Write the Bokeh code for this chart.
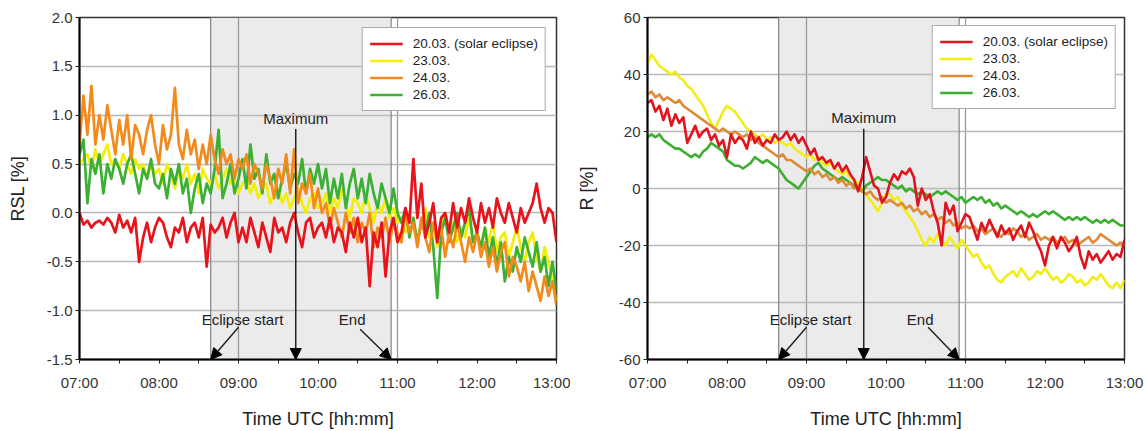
from bokeh.plotting import figure
from bokeh.layouts import row
from bokeh.models import (Range1d, FixedTicker, SingleIntervalTicker, BoxAnnotation, Span,
                          Arrow, NormalHead, Label, Legend, LegendItem, NumeralTickFormatter)
from bokeh.embed import file_html
from bokeh.resources import INLINE

FONT = "Liberation Sans"

# ---------------- data ----------------
sample_step_min = 3          # one value every 3 minutes, 07:00 .. 13:00
tick_hours = [7, 8, 9, 10, 11, 12, 13]
tick_labels = ["07:00", "08:00", "09:00", "10:00", "11:00", "12:00", "13:00"]
series_names = ["20.03. (solar eclipse)", "23.03.", "24.03.", "26.03."]
eclipse_start_h = 8.65
eclipse_max_h = 9.72
eclipse_end_h = 10.92

# RSL [%]
rsl_2003 = [0.0,
    -0.12, -0.08, -0.15, -0.10, -0.08, -0.12, -0.05, -0.10, -0.20, -0.02, -0.15, -0.08, -0.20, -0.05, -0.50, -0.25, -0.10, -0.30, -0.15, -0.05,
    -0.10, -0.25, -0.35, -0.15, -0.20, -0.05, -0.30, -0.15, -0.10, -0.25, -0.05, -0.55, -0.12, -0.20, -0.15, -0.05, -0.25, -0.10, 0.00, -0.30,
    -0.15, -0.30, -0.05, -0.20, -0.35, -0.10, -0.25, -0.40, -0.05, -0.20, -0.15, -0.30, -0.10, 0.00, -0.20, -0.35, -0.10, -0.05, -0.25, -0.15,
    -0.10, -0.25, -0.05, -0.30, -0.15, -0.20, -0.40, -0.10, -0.25, -0.05, -0.30, -0.15, -0.75, -0.20, -0.35, -0.10, -0.65, -0.20, -0.05, -0.30,
    -0.20, 0.05, -0.10, 0.55, -0.05, 0.30, -0.25, -0.10, 0.10, -0.30, -0.05, 0.00, -0.20, 0.10, -0.15, 0.05, -0.10, 0.15, -0.05, -0.20,
    0.10, -0.10, 0.05, -0.15, 0.15, 0.00, -0.10, 0.10, -0.05, -0.20, 0.05, -0.10, 0.00, 0.10, 0.30, 0.05, -0.10, 0.05, 0.00, -0.30]
rsl_2303 = [0.50,
    0.55, 0.60, 0.45, 0.65, 0.50, 0.60, 0.70, 0.50, 0.55, 0.45, 0.60, 0.50, 0.40, 0.55, 0.45, 0.50, 0.35, 0.50, 0.40, 0.45,
    0.30, 0.50, 0.40, 0.25, 0.45, 0.35, 0.50, 0.30, 0.40, 0.20, 0.45, 0.35, 0.30, 0.40, 0.25, 0.35, 0.45, 0.30, 0.35, 0.20,
    0.30, 0.35, 0.20, 0.30, 0.15, 0.25, 0.30, 0.10, 0.20, 0.25, 0.10, 0.20, 0.05, 0.15, 0.25, 0.10, 0.00, 0.15, 0.20, 0.05,
    0.10, 0.20, 0.00, 0.15, 0.05, 0.25, 0.10, -0.05, 0.15, 0.10, 0.00, 0.20, 0.05, -0.10, 0.10, 0.00, 0.15, -0.05, 0.05, -0.10,
    -0.05, -0.20, 0.00, -0.15, -0.30, -0.10, 0.05, -0.25, -0.10, -0.35, -0.15, 0.00, -0.20, -0.10, -0.30, -0.15, -0.25, -0.05, -0.30, -0.20,
    -0.35, -0.15, -0.30, -0.10, -0.40, -0.25, -0.20, -0.45, -0.30, -0.15, -0.35, -0.50, -0.30, -0.20, -0.45, -0.60, -0.35, -0.50, -0.70, -0.90]
rsl_2403 = [0.70,
    1.20, 0.80, 1.30, 0.70, 1.00, 0.75, 1.10, 0.85, 0.60, 0.95, 0.70, 1.00, 0.55, 0.90, 0.80, 0.60, 0.85, 1.00, 0.70, 0.50,
    0.90, 0.65, 0.80, 1.28, 0.70, 0.55, 0.85, 0.60, 0.75, 0.45, 0.70, 0.50, 0.80, 0.55, 0.40, 0.65, 0.50, 0.60, 0.35, 0.55,
    0.45, 0.60, 0.30, 0.50, 0.40, 0.25, 0.50, 0.35, 0.15, 0.45, 0.30, 0.60, 0.20, 0.65, 0.10, 0.30, 0.20, 0.40, 0.05, 0.25,
    0.00, 0.10, -0.15, 0.05, -0.10, -0.25, 0.00, -0.20, -0.05, -0.30, -0.10, -0.20, 0.00, -0.35, -0.15, -0.25, -0.05, -0.30, -0.10, -0.20,
    -0.30, 0.00, -0.20, -0.10, -0.35, -0.05, -0.25, -0.40, -0.10, -0.30, -0.15, -0.45, -0.20, -0.35, -0.10, -0.30, -0.50, -0.25, -0.40, -0.20,
    -0.45, -0.30, -0.55, -0.35, -0.60, -0.40, -0.30, -0.65, -0.45, -0.55, -0.70, -0.50, -0.80, -0.60, -0.75, -0.90, -0.65, -0.85, -0.70, -0.95]
rsl_2603 = [0.60,
    0.75, 0.10, 0.55, 0.40, 0.60, 0.20, 0.50, 0.35, 0.55, 0.45, 0.30, 0.50, 0.60, 0.40, 0.20, 0.45, 0.35, 0.55, 0.30, 0.25,
    0.40, 0.15, 0.45, 0.30, 0.50, 0.20, 0.35, 0.00, 0.25, 0.40, 0.10, 0.30, 0.20, 0.45, 0.85, 0.15, 0.30, 0.50, 0.20, 0.35,
    0.55, 0.25, 0.70, 0.35, 0.45, 0.20, 0.60, 0.30, 0.40, 0.15, 0.35, 0.50, 0.25, 0.40, 0.30, 0.55, 0.20, 0.45, 0.30, 0.50,
    0.25, 0.45, 0.10, 0.35, 0.15, 0.40, 0.05, 0.30, 0.45, 0.15, 0.35, 0.10, 0.40, 0.20, 0.05, 0.30, 0.15, 0.00, 0.25, 0.00,
    -0.10, 0.05, -0.25, -0.05, -0.30, -0.10, -0.20, 0.00, -0.35, -0.87, -0.20, -0.05, -0.30, -0.15, 0.00, -0.25, -0.10, 0.05, -0.30, -0.20,
    -0.35, -0.15, -0.45, -0.25, -0.55, -0.30, -0.70, -0.45, -0.60, -0.35, -0.50, -0.25, -0.40, -0.55, -0.30, -0.60, -0.45, -0.75, -0.50, -0.80]

# R [%]
r_2003 = [30,
    31, 27, 29, 24, 28, 22, 26, 23, 25, 16, 19, 22, 18, 20, 21, 17, 19, 15, 17, 11,
    19, 16, 18, 17, 14, 20, 16, 18, 15, 17, 16, 19, 17, 18, 20, 17, 19, 16, 18, 15,
    12, 14, 10, 11, 9, 10, 7, 9, 6, 8, 5, 3, -1, 4, 11, 6, 1, 0, -5, -3,
    2, 5, 3, 6, 5, 7, 4, -6, 0, -4, -2, -8, -12, -20, -5, -9, -6, -15, -12, -9,
    -10, -14, -18, -12, -15, -11, -14, -17, -13, -16, -14, -18, -15, -13, -17, -12, -15, -19, -22, -27,
    -20, -17, -21, -17, -19, -22, -20, -17, -24, -28, -22, -25, -23, -26, -24, -22, -25, -23, -24, -18]
r_2303 = [44,
    47, 45, 43, 42, 41, 40, 41, 39, 38, 36, 35, 33, 31, 29, 26, 23, 21, 24, 27, 29,
    28, 27, 25, 23, 21, 20, 19, 18, 19, 17, 18, 16, 17, 16, 15, 16, 14, 13, 12, 11,
    12, 10, 11, 9, 8, 9, 7, 6, 5, 6, 4, 3, 2, 0, -2, -4, -6, -8, -5, -2,
    -2, -4, -3, -6, -8, -10, -12, -15, -18, -20, -17, -19, -16, -18, -20, -17, -19, -21, -18, -20,
    -22, -24, -23, -26, -28, -27, -30, -32, -33, -31, -30, -29, -31, -28, -30, -32, -31, -29, -30, -28,
    -30, -32, -31, -33, -32, -30, -31, -33, -32, -34, -33, -31, -32, -30, -32, -34, -35, -33, -35, -32]
r_2403 = [33,
    34, 32, 33, 31, 32, 31, 30, 31, 29, 28, 27, 26, 25, 24, 23, 22, 21, 20, 21, 20,
    19, 20, 19, 18, 19, 17, 18, 16, 15, 14, 13, 12, 11, 12, 10, 10, 9, 8, 7, 6,
    7, 5, 6, 4, 5, 3, 4, 2, 3, 1, 2, 0, 1, -1, -2, -1, -3, -4, -3, -5,
    -4, -5, -6, -5, -7, -6, -8, -7, -9, -8, -10, -9, -11, -10, -12, -11, -13, -12, -14, -13,
    -14, -13, -15, -14, -16, -15, -14, -16, -17, -15, -16, -14, -15, -17, -16, -18, -17, -16, -18, -17,
    -18, -17, -19, -18, -17, -19, -18, -20, -19, -18, -17, -19, -18, -16, -17, -18, -19, -20, -19, -20]
r_2603 = [18,
    19, 18, 19, 17, 16, 15, 14, 14, 13, 12, 11, 12, 11, 13, 14, 16, 15, 14, 13, 10,
    9, 8, 8, 7, 8, 9, 11, 10, 9, 10, 9, 8, 7, 5, 3, 2, 1, 0, 2, 4,
    6, 8, 9, 7, 6, 5, 4, 3, 4, 3, 2, 1, 0, -1, 1, 2, 3, 4, 3, 3,
    2, 1, 0, 1, -1, 0, -1, -2, -1, -2, -3, -2, -1, -2, -1, -2, -3, -4, -3, -5,
    -4, -3, -4, -3, -5, -4, -6, -5, -7, -6, -7, -8, -9, -8, -9, -10, -9, -10, -9, -8,
    -9, -8, -9, -10, -11, -10, -11, -10, -11, -10, -11, -12, -11, -12, -11, -12, -11, -12, -13, -13]

colors_left = ["#e8141c", "#f2ee0a", "#f28a1c", "#3cb034"]
colors_right = ["#e0141e", "#f2ee14", "#de8a36", "#3cae30"]


def hours(vals):
    return [tick_hours[0] + sample_step_min * i / 60.0 for i in range(len(vals))]


def make_panel(width, b_left, b_right, y_lo, y_hi, y_step, y_fmt, y_label, series, colors,
               ann, legend_margin, y_label_standoff, lw):
    p = figure(width=width, height=431, x_range=Range1d(7, 13), y_range=Range1d(y_lo, y_hi),
               output_backend="svg", toolbar_location=None,
               min_border_left=b_left, min_border_right=b_right, min_border_top=17, min_border_bottom=71)
    p.background_fill_color = "white"
    p.border_fill_color = "white"
    p.outline_line_color = "#333333"
    p.outline_line_width = 1.5

    # eclipse shading
    p.add_layout(BoxAnnotation(left=eclipse_start_h, right=eclipse_end_h, fill_color="#ebebeb",
                               fill_alpha=1.0, line_color=None, level="image"))
    for loc in (eclipse_start_h, eclipse_end_h):
        p.add_layout(Span(location=loc, dimension="height", line_color="#8c8c8c",
                          line_width=1.3, level="underlay"))

    # axes
    xa = p.xaxis[0]
    xa.ticker = FixedTicker(ticks=tick_hours, minor_ticks=[h + 0.5 for h in tick_hours[:-1]])
    xa.major_label_overrides = {h: lab for h, lab in zip(tick_hours, tick_labels)}
    xa.axis_label = "Time UTC [hh:mm]"
    ya = p.yaxis[0]
    ya.ticker = SingleIntervalTicker(interval=y_step, num_minor_ticks=0)
    ya.formatter = NumeralTickFormatter(format=y_fmt)
    ya.axis_label = y_label
    for ax in (xa, ya):
        ax.axis_line_color = "black"
        ax.axis_line_width = 2
        ax.major_tick_line_color = "#222222"
        ax.major_tick_out = 4
        ax.major_tick_in = 0
        ax.minor_tick_line_color = "#222222"
        ax.minor_tick_out = 4
        ax.minor_tick_in = 0
        ax.major_label_text_font = FONT
        ax.major_label_text_font_size = "15px"
        ax.major_label_text_color = "#333333"
        ax.axis_label_text_font = FONT
        ax.axis_label_text_font_size = "18px"
        ax.axis_label_text_font_style = "normal"
        ax.axis_label_text_color = "#222222"
    xa.major_label_standoff = 10
    xa.axis_label_standoff = 15
    ya.major_label_standoff = 3
    ya.axis_label_standoff = y_label_standoff

    p.xgrid.ticker = FixedTicker(ticks=[9, 11])
    p.xgrid.grid_line_color = "#999999"
    p.xgrid.grid_line_width = 1.3
    p.ygrid.grid_line_color = "#b8b8b8"
    p.ygrid.grid_line_width = 1.5

    # series: draw yellow, green, orange, red (red on top)
    rends = [None] * 4
    for idx in (1, 3, 2, 0):
        vals = series[idx]
        rends[idx] = p.line(hours(vals), vals, line_color=colors[idx], line_width=lw,
                            line_join="round")

    legend = Legend(items=[LegendItem(label=series_names[i], renderers=[rends[i]]) for i in range(4)],
                    location="top_right", margin=legend_margin, padding=7, spacing=0,
                    glyph_width=33, glyph_height=17, label_height=17, label_standoff=10,
                    label_text_font=FONT, label_text_font_size="13.5px", label_text_color="#222222",
                    border_line_color="#555555", border_line_width=1.2,
                    background_fill_color="white", background_fill_alpha=1.0)
    p.add_layout(legend)

    # annotations
    (max_lab_y, max_arrow_top, start_lab, start_arrow, end_lab, end_arrow) = ann
    lab_kw = dict(text_font=FONT, text_font_size="15px", text_color="#222222",
                  text_align="center", text_baseline="middle")
    p.add_layout(Label(x=eclipse_max_h, y=max_lab_y, text="Maximum", **lab_kw))
    p.add_layout(Arrow(end=NormalHead(size=11, fill_color="black", line_color="black"),
                       x_start=eclipse_max_h, y_start=max_arrow_top, x_end=eclipse_max_h, y_end=y_lo,
                       line_color="#222222", line_width=1.5))
    p.add_layout(Label(x=start_lab[0], y=start_lab[1], text="Eclipse start", **lab_kw))
    p.add_layout(Arrow(end=NormalHead(size=11, fill_color="black", line_color="black"),
                       x_start=start_arrow[0], y_start=start_arrow[1], x_end=eclipse_start_h, y_end=y_lo,
                       line_color="#222222", line_width=1.5))
    p.add_layout(Label(x=end_lab[0], y=end_lab[1], text="End", **lab_kw))
    p.add_layout(Arrow(end=NormalHead(size=11, fill_color="black", line_color="black"),
                       x_start=end_arrow[0], y_start=end_arrow[1], x_end=eclipse_end_h, y_end=y_lo,
                       line_color="#222222", line_width=1.5))
    return p


left = make_panel(570, 79, 14, -1.5, 2.0, 0.5, "0.0", "RSL [%]",
                  [rsl_2003, rsl_2303, rsl_2403, rsl_2603], colors_left,
                  (0.97, 0.86, (9.05, -1.09), (9.0, -1.17), (10.43, -1.09), (10.53, -1.19)),
                  10, 16, 2.7)
right = make_panel(574, 77, 20, -60, 60, 20, "0", "R [%]",
                   [r_2003, r_2303, r_2403, r_2603], colors_right,
                   (24.9, 21.0, (9.05, -46.0), (9.0, -48.7), (10.43, -46.0), (10.53, -48.7)),
                   8, 19, 2.6)

layout = row(left, right)
open("out.html", "w").write(file_html(layout, INLINE))
